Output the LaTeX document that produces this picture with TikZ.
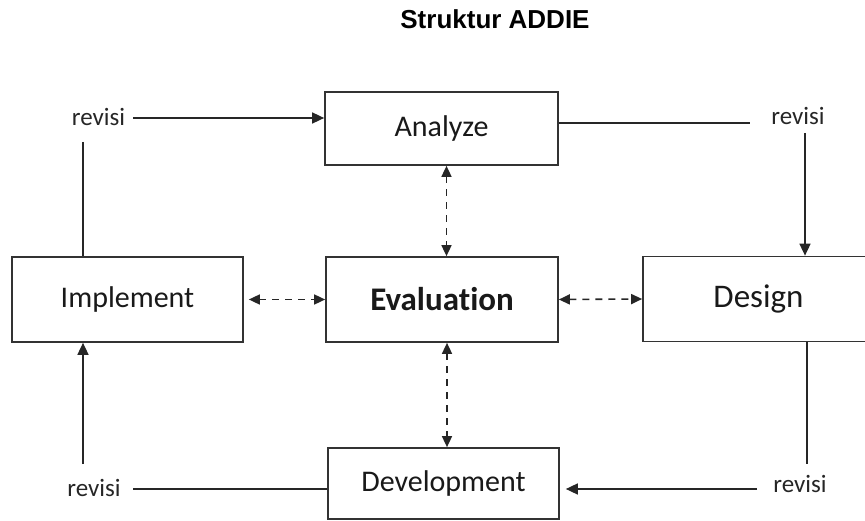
\documentclass[tikz,border=0pt]{standalone}
\usepackage{fontspec}
\setmainfont[Ligatures=NoCommon]{Carlito}
\newfontfamily\titlefont{Liberation Sans}
\usetikzlibrary{arrows.meta}

\begin{document}
\begin{tikzpicture}[x=1pt,y=-1pt]
  \tikzset{
    stage/.style={draw=black!80, line width=1.7pt, inner sep=0pt,
      minimum width=231pt, minimum height=85pt, text=black!90,
      font=\fontsize{30}{30}\selectfont},
    revisi/.style={inner sep=0pt, anchor=base, text=black!85,
      font=\fontsize{25}{25}\selectfont},
    link/.style={line width=1.6pt, draw=black!85},
    flow/.style={link, -{Triangle[length=12pt,width=11pt]}},
    evalflow/.style={link, dash pattern=on 7pt off 6pt,
      {Triangle[length=11pt,width=10pt]}-{Triangle[length=11pt,width=10pt]}}
  }
  \useasboundingbox (0,0) rectangle (865,521);

  \node[anchor=base, font=\titlefont\bfseries\fontsize{26}{26}\selectfont] (title) at (495,29) {Struktur ADDIE};

  % The five stages; Design runs off the right edge.
  \node[stage, minimum width=233pt, minimum height=73pt] (analyze) at (441.5,128.5) {Analyze};
  \node[stage] (implement) at (127.5,299.5) {Implement};
  \node[stage, minimum width=232pt, font=\bfseries\fontsize{33}{33}\selectfont] (evaluation) at (442,299.5) {Evaluation};
  \node[stage, font=\fontsize{33}{33}\selectfont] (design) at (758.5,299) {Design};
  \node[stage, minimum height=71pt] (development) at (443.5,483.5) {Development};

  \node[revisi] (revTL) at (98.5,126) {revisi};
  \node[revisi] (revTR) at (798,125) {revisi};
  \node[revisi] (revBL) at (94,496) {revisi};
  \node[revisi] (revBR) at (800,492) {revisi};

  % Revision loop round the outside.
  \coordinate (tlStart) at (133,118);
  \coordinate (tlDrop) at (83,142);
  \coordinate (trEnd) at (750,123);
  \coordinate (trDrop) at (805,133);
  \coordinate (brRise) at (807,464);
  \coordinate (brStart) at (757,489);
  \coordinate (blEnd) at (133,489);
  \coordinate (blRise) at (83,464);
  \draw[flow] (tlStart) -- (tlStart -| analyze.west);
  \draw[link] (tlDrop) -- (tlDrop |- implement.north);
  \draw[link] (trEnd -| analyze.east) -- (trEnd);
  \draw[flow] (trDrop) -- (trDrop |- design.north);
  \draw[link] (brRise |- design.south) -- (brRise);
  \draw[flow, shorten >=6pt] (brStart) -- (brStart -| development.east);
  \draw[link] (blEnd -| development.west) -- (blEnd);
  \draw[flow] (blRise) -- (blRise |- implement.south);

  % Evaluation talks to every stage.
  \draw[evalflow] ([xshift=5pt]analyze.south) -- ([xshift=5pt]analyze.south |- evaluation.north);
  \draw[evalflow] ([xshift=5pt]evaluation.south) -- ([xshift=5pt]evaluation.south |- development.north);
  \draw[evalflow, shorten <=5pt] (implement.east) -- (evaluation.west);
  \draw[evalflow] (evaluation.east) -- (design.west);
\end{tikzpicture}
\end{document}
